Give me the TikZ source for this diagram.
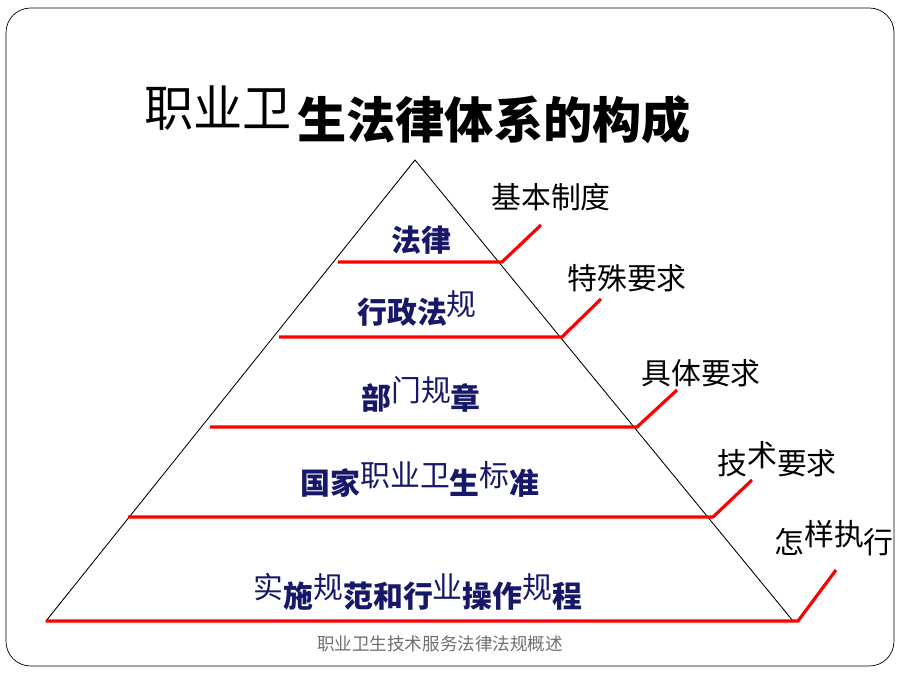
\documentclass[tikz,border=0pt]{standalone}
\usepackage{fontspec}
\newfontfamily\cjk{Noto Sans CJK SC}
\usetikzlibrary{positioning}
\definecolor{navy}{RGB}{24,24,104}
\definecolor{footgray}{RGB}{110,110,110}
% raised, not bold
\newcommand{\rs}[1]{\raisebox{0.28em}{\mdseries #1}}
\tikzset{
  level/.style={red, line width=1.8pt},
  layer/.style={font=\cjk\bfseries\fontsize{17}{20}\selectfont, text=navy, anchor=base, inner sep=0pt},
  side/.style={font=\cjk\fontsize{17}{20}\selectfont, anchor=base, inner sep=0pt},
}

\begin{document}
\begin{tikzpicture}[x=0.02cm, y=-0.02cm]
  \useasboundingbox (0,0) rectangle (900,675);

  % Draw the frame
  \draw[rounded corners=14pt] (6,8) rectangle (894,666);

  % Draw the title
  \node[font=\cjk\bfseries\fontsize{28}{32}\selectfont, anchor=base west, inner sep=0pt] (titleB) at (297,139) {生法律体系的构成};
  \node[font=\cjk\fontsize{28}{32}\selectfont, anchor=base east, inner sep=0pt] (titleA) at (292,127) {职业卫};

  % Draw the pyramid
  \coordinate (apex) at (415,160);
  \coordinate (bl) at (46,621);
  \coordinate (br) at (793,621);
  \draw[line width=0.5pt] (bl) -- (apex) -- (br) -- cycle;

  % Draw the levels and their ticks
  \foreach \n/\y/\xl/\xr/\tx/\ty in {a/262/338/502/541/225, b/337/279/562/601/299, c/427/210/637/677/390, d/517/128/713/752/480, e/621/46/798/836/570} {
    \coordinate (l\n) at (\xl,\y);
    \coordinate (r\n) at (\xr,\y);
    \coordinate (t\n) at (\tx,\ty);
    \draw[level] (l\n) -- (r\n) -- (t\n);
  }

  % Label the layers
  \node[layer] (law) at (421,252) {法律};
  \node[layer] (admin) at (417,324) {行政法\rs{规}};
  \node[layer] (dept) at (421,410) {部\rs{门规}章};
  \node[layer] (natl) at (420,495) {国家\rs{职业卫}生\rs{标}准};
  \node[layer] (impl) at (418,607) {\rs{实}施\rs{规}范和行\rs{业}操作\rs{规}程};

  % Label the sides
  \node[side] (basic) at (551,209) {基本制度};
  \node[side] (special) at (627,290) {特殊要求};
  \node[side] (concrete) at (701,385) {具体要求};
  \node[side] (tech) at (777,475) {技\rs{术}要求};
  \node[side] (howto) at (834,554) {怎\rs{样执}行};

  % Footer
  \node[font=\cjk\fontsize{10}{12}\selectfont, text=footgray, anchor=base, inner sep=0pt] (foot) at (440,650) {职业卫生技术服务法律法规概述};
\end{tikzpicture}
\end{document}
